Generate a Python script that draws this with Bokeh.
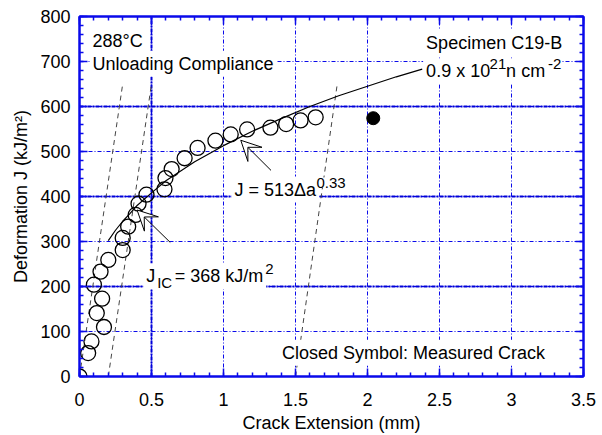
import numpy as np
from bokeh.plotting import figure
from bokeh.models import (Label, Arrow, VeeHead, LinearAxis, FixedTicker, Grid,
                          CustomJSTickFormatter, Range1d)
from bokeh.embed import file_html
from bokeh.resources import INLINE

# ---- data ----
open_da = [0.0, 0.06, 0.083, 0.17, 0.12, 0.157, 0.10, 0.146, 0.20, 0.30, 0.30, 0.338,
           0.39, 0.41, 0.465, 0.59, 0.597, 0.64, 0.73, 0.82, 0.944, 1.05, 1.164,
           1.326, 1.435, 1.535, 1.64]
open_J = [0, 52, 78, 110, 141, 173, 204, 233, 259, 281, 308, 333,
          359, 384, 404, 416, 441, 461, 485, 508, 524, 538, 549,
          553, 561, 569, 576]
closed_da = [2.04]
closed_J = [574]

fit_da = [0.2, 0.25, 0.3, 0.35, 0.4, 0.5, 0.6, 0.7, 0.8, 0.9, 1.0, 1.2, 1.4, 1.6,
          1.8, 2.0, 2.2, 2.38]
fit_J = [302, 325, 345, 362, 380, 408, 435, 456, 477, 495, 513, 545, 573, 600,
         624, 645, 666, 683]

blunt_da = [0.0, 0.30]
offset_da = [0.2, 0.50]
exclusion_da = [1.5, 1.79]
line_J = [0, 650]

x_ticks = [0, 0.5, 1, 1.5, 2, 2.5, 3, 3.5]
y_ticks = [0, 100, 200, 300, 400, 500, 600, 700, 800]

BLUE = "#0a0aea"
FONT = "Liberation Sans"

p = figure(width=598, height=435, x_range=Range1d(0, 3.5), y_range=Range1d(0, 800),
           output_backend="svg", toolbar_location=None,
           min_border_left=79, min_border_right=15, min_border_top=16, min_border_bottom=59)
p.background_fill_color = "white"
p.border_fill_color = "white"
p.outline_line_color = BLUE
p.outline_line_width = 2

xt = FixedTicker(ticks=x_ticks, minor_ticks=list(np.round(np.arange(0, 3.51, 0.1), 2)))
yt = FixedTicker(ticks=y_ticks, minor_ticks=list(range(0, 801, 20)))
fmt = CustomJSTickFormatter(code="return tick.toString();")
blank = CustomJSTickFormatter(code="return '';")


def style_axis(ax, labels=True):
    ax.axis_line_color = BLUE
    ax.axis_line_width = 2
    ax.major_tick_in = 8
    ax.major_tick_out = 0
    ax.minor_tick_in = 4
    ax.minor_tick_out = 0
    ax.major_tick_line_color = BLUE
    ax.minor_tick_line_color = BLUE
    ax.major_tick_line_width = 1.5
    ax.minor_tick_line_width = 1.5
    ax.major_label_text_font = FONT
    ax.major_label_text_color = "black"
    ax.axis_label_text_font = FONT
    ax.axis_label_text_font_style = "normal"
    ax.axis_label_text_color = "black"
    ax.axis_label_text_font_size = "18px"
    if labels:
        ax.major_label_text_font_size = "18px"
    else:
        ax.major_label_text_font_size = "0px"
        ax.major_label_standoff = 0


p.xaxis.ticker = xt
p.xaxis.formatter = fmt
p.yaxis.ticker = yt
p.yaxis.formatter = fmt
style_axis(p.xaxis[0])
style_axis(p.yaxis[0])
p.xaxis.axis_label = "Crack Extension (mm)"
p.yaxis.axis_label = "Deformation J (kJ/m²)"
p.xaxis.major_label_standoff = 16
p.yaxis.major_label_standoff = 9
p.xaxis.axis_label_standoff = 4
p.yaxis.axis_label_standoff = 6

top_ax = LinearAxis(ticker=xt, formatter=blank)
right_ax = LinearAxis(ticker=yt, formatter=blank)
style_axis(top_ax, labels=False)
style_axis(right_ax, labels=False)
p.add_layout(top_ax, "above")
p.add_layout(right_ax, "right")

# grids
for g in (p.xgrid[0], p.ygrid[0]):
    g.grid_line_color = BLUE
    g.grid_line_width = 1
    g.grid_line_dash = "4 2 1 2"
p.xgrid.ticker = xt
p.ygrid.ticker = yt
thick_y = Grid(dimension=1, ticker=FixedTicker(ticks=[200, 400, 600]),
               grid_line_color="#0000d8", grid_line_width=2, grid_line_dash="4 1 2 1")
thick_x = Grid(dimension=0, ticker=FixedTicker(ticks=[0.5]),
               grid_line_color="#0000d8", grid_line_width=2, grid_line_dash="4 1 2 1")
p.add_layout(thick_y)
p.add_layout(thick_x)

# dashed construction lines
for xs in (blunt_da, offset_da, exclusion_da):
    p.line(xs, line_J, line_color="#444444", line_width=1, line_dash="5 4")

# power-law fit
p.line(fit_da, fit_J, line_color="black", line_width=1.2)

# data
p.scatter(open_da, open_J, size=15, marker="circle", fill_color=None,
          line_color="black", line_width=1.3)
p.scatter(closed_da, closed_J, size=13, marker="circle", fill_color="black",
          line_color="black")

# arrows
for (x0, y0, x1, y1) in [(1.33, 458, 1.12, 525), (0.63, 298, 0.40, 370)]:
    p.add_layout(Arrow(x_start=x0, y_start=y0, x_end=x1, y_end=y1,
                       line_color="black", line_width=1,
                       end=VeeHead(size=20, fill_color="white", line_color="black",
                                   line_width=1)))


def lab(text, x, y, size="18px", dx=0, dy=0, pad=3):
    l = Label(x=x, y=y, x_offset=dx, y_offset=dy, text=text, text_font=FONT,
              text_font_size=size, text_color="black", text_baseline="alphabetic",
              text_align="left", background_fill_color="white", padding=pad)
    p.add_layout(l)


MX, MY = -4, 6   # compensation for label padding / baseline placement
SY = 6

# main text first, then the small super/subscripts on top
lab("288°C", 0.097, 732, dx=MX, dy=MY)
lab("Unloading Compliance", 0.097, 681.5, dx=MX, dy=MY)
lab("Specimen C19-B", 2.414, 728, dx=MX, dy=MY)
lab("0.9 x 10", 2.414, 665, dx=MX, dy=MY)
lab(" n cm", 2.414, 665, dx=80 + MX, dy=MY)
lab("J = 513Δa", 1.083, 402, dx=MX, dy=MY)
lab("J", 0.47, 209.6, dx=MX, dy=MY)
lab("= 368 kJ/m", 0.47, 209.6, dx=28.5 + MX, dy=MY)
lab("Closed Symbol: Measured Crack", 1.413, 39.3, dx=MX, dy=MY)

lab("21", 2.414, 665, size="15px", dx=62.5, dy=7 + SY, pad=0)
lab("-2", 2.414, 665, size="15px", dx=121, dy=7 + SY, pad=0)
lab("0.33", 1.083, 402, size="15px", dx=81, dy=7 + SY, pad=0)
lab("IC", 0.47, 209.6, size="15px", dx=10, dy=-6.5 + SY, pad=0)
lab("2", 0.47, 209.6, size="15px", dx=118, dy=7 + SY, pad=0)

open("out.html", "w").write(file_html(p, INLINE))
